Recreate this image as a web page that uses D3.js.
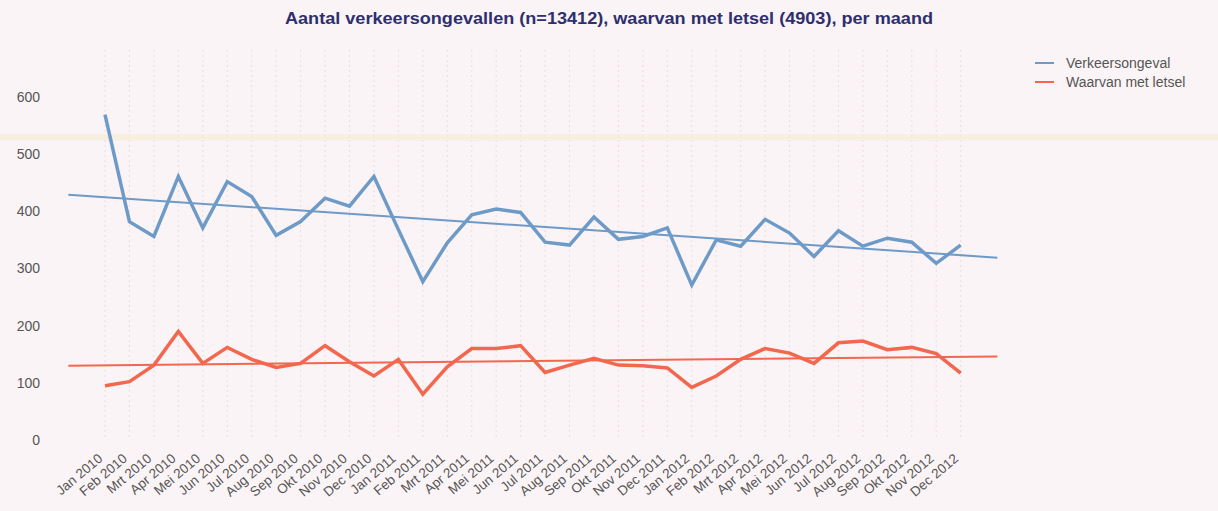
<!DOCTYPE html>
<html>
<head>
<meta charset="utf-8">
<script src="https://cdn.jsdelivr.net/npm/d3@7"></script>
<style>
  body { margin: 0; background: #fbf4f6; }
  svg { display: block; }
</style>
</head>
<body>
<div id="chart"></div>
<script>
// data
var months = ["Jan 2010","Feb 2010","Mrt 2010","Apr 2010","Mei 2010","Jun 2010","Jul 2010","Aug 2010","Sep 2010","Okt 2010","Nov 2010","Dec 2010",
  "Jan 2011","Feb 2011","Mrt 2011","Apr 2011","Mei 2011","Jun 2011","Jul 2011","Aug 2011","Sep 2011","Okt 2011","Nov 2011","Dec 2011",
  "Jan 2012","Feb 2012","Mrt 2012","Apr 2012","Mei 2012","Jun 2012","Jul 2012","Aug 2012","Sep 2012","Okt 2012","Nov 2012","Dec 2012"]

var ongevallen = [569, 382, 356, 461, 371, 452, 426, 358, 382, 423, 409, 461,
  368, 277, 345, 394, 404, 398, 346, 341, 390, 351, 356, 371,
  271, 350, 339, 386, 362, 321, 366, 339, 353, 346, 309, 341]

var letsel = [95, 102, 131, 190, 134, 162, 141, 127, 134, 165, 137, 112,
  141, 80, 128, 160, 160, 165, 118, 131, 143, 131, 130, 126,
  92, 112, 141, 160, 152, 134, 170, 173, 158, 162, 151, 117]

// trend lines: [index, value] at both ends
var trendOngevallen = [[-1.5, 429], [36.5, 319]]
var trendLetsel = [[-1.5, 130], [36.5, 146]]

var yTicks = [0, 100, 200, 300, 400, 500, 600]
var legendNames = ["Verkeersongeval", "Waarvan met letsel"]
var colors = ["#6e9ac7", "#f2674d"]

var width = 1218, height = 511

var svg = d3.select("#chart")
  .append("svg")
  .attr("width", width)
  .attr("height", height)

svg.append("rect")
  .attr("width", width).attr("height", height)
  .attr("fill", "#fbf4f6")

var xPositionScale = d3.scaleLinear().domain([0, 35]).range([105, 960.7])
var yPositionScale = d3.scaleLinear().domain([0, 600]).range([440, 97])

// vertical dashed grid
svg.selectAll(".grid")
  .data(months)
  .enter().append("line")
  .attr("class", "grid")
  .attr("x1", (d, i) => xPositionScale(i))
  .attr("x2", (d, i) => xPositionScale(i))
  .attr("y1", 50)
  .attr("y2", 440)
  .attr("stroke", "#e6dfe2")
  .attr("stroke-width", 1)
  .attr("stroke-dasharray", "2,3")

// scan streak
svg.append("rect")
  .attr("x", 0).attr("y", 134).attr("width", width).attr("height", 7)
  .attr("fill", "#f5e8e6").attr("opacity", 0.5)
svg.append("rect")
  .attr("x", 0).attr("y", 136.5).attr("width", width).attr("height", 2)
  .attr("fill", "#f6f1cd")

// title
svg.append("text")
  .attr("x", 609)
  .attr("y", 24)
  .attr("text-anchor", "middle")
  .attr("textLength", 648)
  .attr("lengthAdjust", "spacingAndGlyphs")
  .style("font-family", "'Liberation Sans Narrow', 'Liberation Sans', Arial, sans-serif")
  .style("font-weight", "bold")
  .style("font-size", "17px")
  .attr("fill", "#2d2f6e")
  .text("Aantal verkeersongevallen (n=13412), waarvan met letsel (4903), per maand")

// y axis labels
var yAxis = d3.axisLeft(yPositionScale).tickValues(yTicks).tickSize(0).tickPadding(0)
var yg = svg.append("g")
  .attr("class", "axis y-axis")
  .attr("transform", "translate(40,0)")
  .call(yAxis)
yg.select(".domain").remove()
yg.selectAll("text")
  .attr("fill", "#555")
  .style("font-family", "'Liberation Sans', Arial, sans-serif")
  .style("font-size", "14px")

// x axis labels
var xAxis = d3.axisBottom(xPositionScale)
  .tickValues(d3.range(months.length))
  .tickFormat(i => months[i])
  .tickSize(0)
var xg = svg.append("g")
  .attr("class", "axis x-axis")
  .attr("transform", "translate(0,440)")
  .call(xAxis)
xg.select(".domain").remove()
xg.selectAll("text")
  .attr("fill", "#555")
  .style("font-family", "'Liberation Sans', Arial, sans-serif")
  .style("font-size", "13.5px")
  .attr("text-anchor", "end")
  .attr("dy", 0)
  .attr("y", 0)
  .attr("transform", "translate(-2,20) rotate(-40)")

// trend lines
var trendLine = d3.line()
  .x(d => xPositionScale(d[0]))
  .y(d => yPositionScale(d[1]))

svg.append("path")
  .datum(trendOngevallen)
  .attr("d", trendLine)
  .attr("fill", "none")
  .attr("stroke", colors[0])
  .attr("stroke-width", 2)

svg.append("path")
  .datum(trendLetsel)
  .attr("d", trendLine)
  .attr("fill", "none")
  .attr("stroke", colors[1])
  .attr("stroke-width", 2)

// data lines
var line = d3.line()
  .x((d, i) => xPositionScale(i))
  .y(d => yPositionScale(d))

svg.append("path")
  .datum(ongevallen)
  .attr("d", line)
  .attr("fill", "none")
  .attr("stroke", colors[0])
  .attr("stroke-width", 3.5)
  .attr("stroke-linejoin", "miter")

svg.append("path")
  .datum(letsel)
  .attr("d", line)
  .attr("fill", "none")
  .attr("stroke", colors[1])
  .attr("stroke-width", 3.5)
  .attr("stroke-linejoin", "miter")

// legend
var legend = svg.selectAll(".legend")
  .data(legendNames)
  .enter().append("g")
  .attr("class", "legend")
  .attr("transform", (d, i) => "translate(1035," + (63 + i * 19) + ")")

legend.append("line")
  .attr("x1", 0).attr("x2", 19)
  .attr("stroke", (d, i) => colors[i])
  .attr("stroke-width", 2)

legend.append("text")
  .attr("x", 31)
  .attr("y", 5)
  .attr("fill", "#555")
  .style("font-family", "'Liberation Sans', Arial, sans-serif")
  .style("font-size", "14px")
  .text(d => d)
</script>
</body>
</html>
